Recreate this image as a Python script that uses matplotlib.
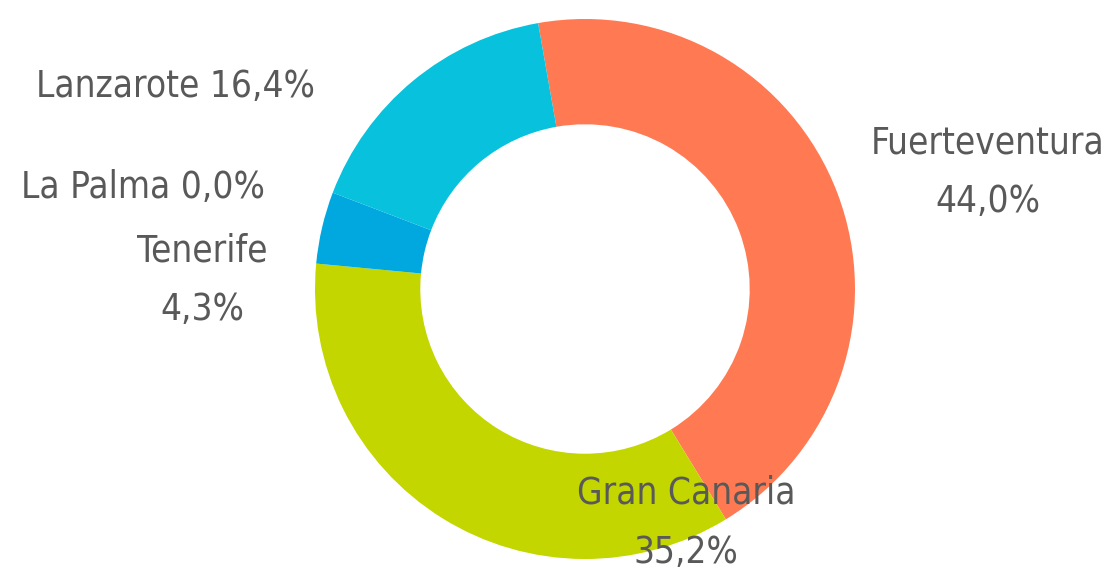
import matplotlib
matplotlib.use("Agg")
import matplotlib.pyplot as plt

islands = ["Fuerteventura", "Gran Canaria", "Tenerife", "La Palma", "Lanzarote"]
shares = [44.0, 35.2, 4.3, 0.0, 16.4]
colors = ["#FF7A53", "#C3D600", "#00A8DF", "#1A9FD8", "#07C1DD"]

W, H = 1107, 579
fig = plt.figure(figsize=(W / 100, H / 100), dpi=100)
fig.patch.set_facecolor("white")

cx, cy, r = 585, 289, 270
ax = fig.add_axes([(cx - r) / W, (H - cy - r) / H, 2 * r / W, 2 * r / H])
ax.pie(shares, colors=colors, startangle=100, counterclock=False, radius=1.0,
       wedgeprops=dict(width=0.39, linewidth=0))
ax.set_xlim(-1, 1)
ax.set_ylim(-1, 1)
ax.set_aspect("equal")
ax.axis("off")

def fmt(v):
    return f"{v:.1f}".replace(".", ",") + "%"

fam = ["DejaVu Sans"]
fs = 26.5
tc = "#595959"
labels = {
    "Lanzarote": (f"Lanzarote {fmt(shares[4])}", 176, 97),
    "La Palma": (f"La Palma {fmt(shares[3])}", 143, 198),
    "Tenerife": (f"Tenerife\n{fmt(shares[2])}", 202, 320),
    "Fuerteventura": (f"Fuerteventura\n{fmt(shares[0])}", 988, 212),
    "Gran Canaria": (f"Gran Canaria\n{fmt(shares[1])}", 686, 563),
}
for name, (txt, x, y) in labels.items():
    lines = txt.split("\n")
    n = len(lines)
    for i, line in enumerate(lines):
        yy = y - (n - 1 - i) * 59
        fig.text(x / W, 1 - yy / H, line, ha="center", va="baseline",
                 fontsize=fs, family=fam, fontstretch="condensed",
                 fontweight="medium", color=tc)

fig.savefig("out.png", dpi=100, facecolor="white")
